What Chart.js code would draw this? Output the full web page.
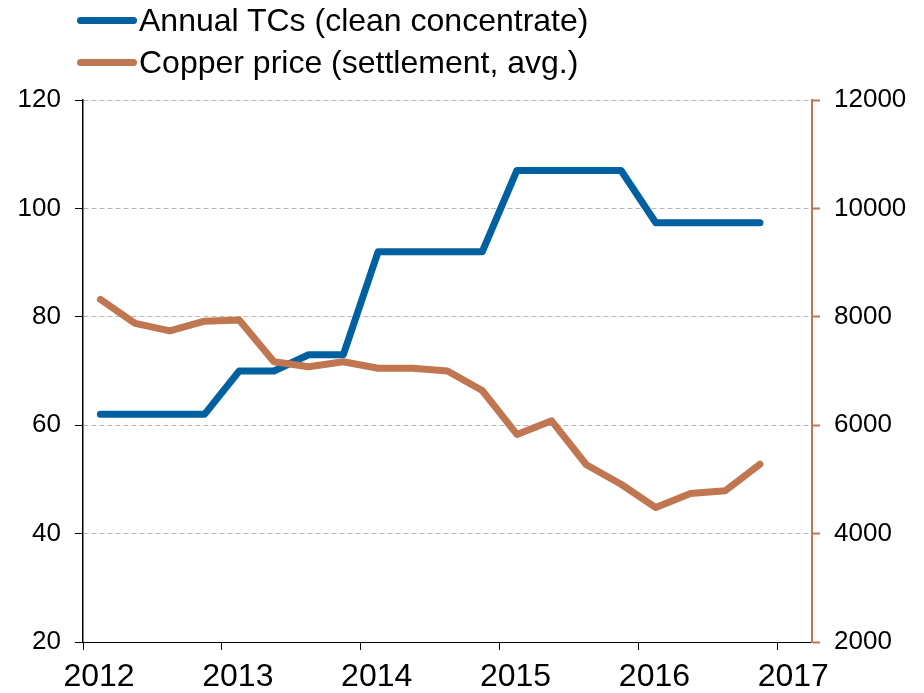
<!DOCTYPE html>
<html>
<head>
<meta charset="utf-8">
<script src="https://cdn.jsdelivr.net/npm/chart.js@4.4.1/dist/chart.umd.min.js"></script>
<style>
html,body{margin:0;padding:0;background:#fff;}
#wrap{position:relative;width:924px;height:693px;overflow:hidden;}
#c{position:absolute;left:0;top:0;}
#legend{position:absolute;left:77px;top:4px;font-family:"Liberation Sans",Arial,sans-serif;font-size:32px;color:#000;}
.item{display:flex;align-items:center;height:32px;line-height:32px;margin-bottom:10px;white-space:nowrap;}
.sw{width:60px;height:7px;border-radius:4px;margin-right:2px;}
</style>
</head>
<body>
<div id="wrap">
<canvas id="c" width="924" height="693"></canvas>
<div id="legend"></div>
</div>
<script>
// ---- data ----
const seriesNames = ["Annual TCs (clean concentrate)", "Copper price (settlement, avg.)"];
const quarters = [2012.125, 2012.375, 2012.625, 2012.875,
                  2013.125, 2013.375, 2013.625, 2013.875,
                  2014.125, 2014.375, 2014.625, 2014.875,
                  2015.125, 2015.375, 2015.625, 2015.875,
                  2016.125, 2016.375, 2016.625, 2016.875];
const annualTCs = [62, 62, 62, 62,
                   70, 70, 73, 73,
                   92, 92, 92, 92,
                   107, 107, 107, 107,
                   97.35, 97.35, 97.35, 97.35];
const copperPrice = [8320, 7880, 7740, 7920,
                     7940, 7170, 7080, 7170,
                     7050, 7050, 7000, 6640,
                     5830, 6080, 5270, 4910,
                     4480, 4740, 4790, 5280];
const yearTicks = [2012, 2013, 2014, 2015, 2016, 2017];
const leftTicks = [20, 40, 60, 80, 100, 120];
const rightTicks = [2000, 4000, 6000, 8000, 10000, 12000];

// ---- styles ----
const BLUE = "#0060A0";
const BROWN = "#C07650";
const FONT = '"Liberation Sans", Arial, sans-serif';
const colors = [BLUE, BROWN];

// legend (HTML)
const legendEl = document.getElementById('legend');
seriesNames.forEach((n, i) => {
  const it = document.createElement('div'); it.className = 'item';
  const sw = document.createElement('span'); sw.className = 'sw'; sw.style.background = colors[i];
  const tx = document.createElement('span'); tx.textContent = n;
  it.appendChild(sw); it.appendChild(tx); legendEl.appendChild(it);
});

const toPts = (vals) => quarters.map((q, i) => ({x: q, y: vals[i]}));

new Chart(document.getElementById('c'), {
  type: 'line',
  data: {
    datasets: [
      {label: seriesNames[0], data: toPts(annualTCs), yAxisID: 'y', borderColor: BLUE, backgroundColor: BLUE,
       borderWidth: 7, pointRadius: 0, tension: 0, borderCapStyle: 'round', borderJoinStyle: 'round', order: 1},
      {label: seriesNames[1], data: toPts(copperPrice), yAxisID: 'y2', borderColor: BROWN, backgroundColor: BROWN,
       borderWidth: 7, pointRadius: 0, tension: 0, borderCapStyle: 'round', borderJoinStyle: 'round', order: 0}
    ]
  },
  options: {
    responsive: false,
    animation: false,
    events: [],
    layout: {padding: {top: 100, left: 0, right: 0, bottom: 0}},
    plugins: {legend: {display: false}, tooltip: {enabled: false}},
    scales: {
      x: {
        type: 'linear', position: 'bottom', min: 2012, max: 2017.25,
        afterBuildTicks: s => { s.ticks = yearTicks.map(v => ({value: v})); },
        afterFit: s => { s.height = 51; },
        ticks: {font: {family: FONT, size: 32}, color: '#000', padding: 8, labelOffset: 16, maxRotation: 0,
                callback: v => String(v)},
        grid: {drawOnChartArea: false, color: '#000', tickColor: '#000', tickLength: 8, tickWidth: 1},
        border: {display: true, color: '#000', width: 1}
      },
      y: {
        position: 'left', min: 20, max: 120,
        afterBuildTicks: s => { s.ticks = leftTicks.map(v => ({value: v})); },
        afterFit: s => { s.width = 83; },
        ticks: {font: {family: FONT, size: 26}, color: '#000', padding: 14, callback: v => String(v)},
        grid: {color: c => (c.tick && c.tick.value === 20) ? 'rgba(0,0,0,0)' : '#b8b8b8',
               lineWidth: 1, tickColor: '#000', tickLength: 8, tickWidth: 1},
        border: {display: true, color: '#000', width: 1.5, dash: [5, 3]}
      },
      y2: {
        position: 'right', min: 2000, max: 12000,
        afterBuildTicks: s => { s.ticks = rightTicks.map(v => ({value: v})); },
        afterFit: s => { s.width = 112; },
        ticks: {font: {family: FONT, size: 26}, color: '#000', padding: 14, callback: v => String(v)},
        grid: {drawOnChartArea: false, color: BROWN, tickColor: BROWN, tickLength: 8, tickWidth: 2},
        border: {display: true, color: BROWN, width: 2}
      }
    }
  }
});
</script>
</body>
</html>
